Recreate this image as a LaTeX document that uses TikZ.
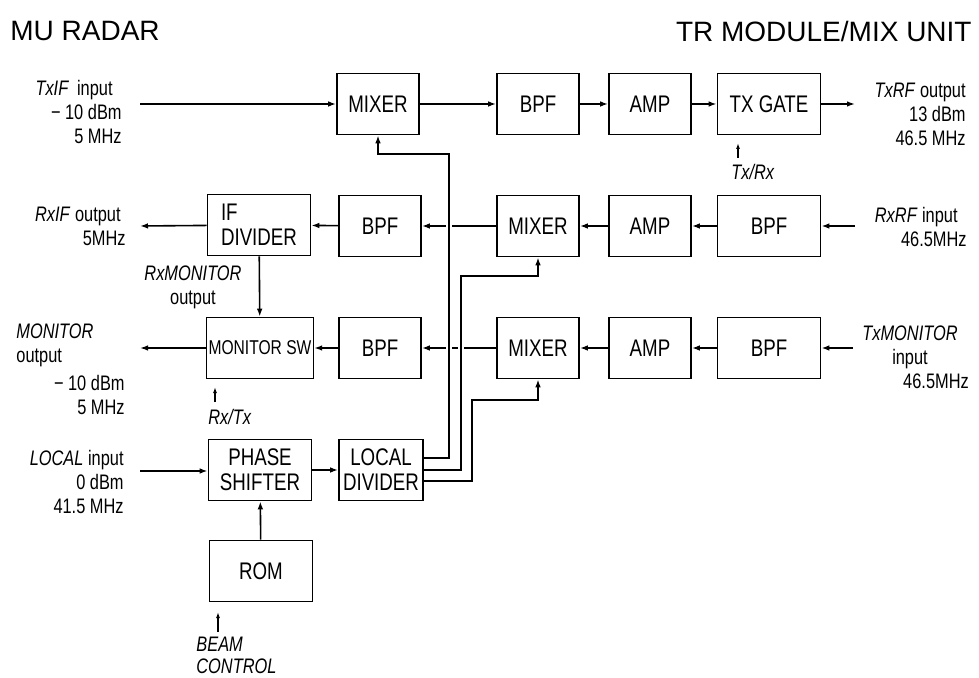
\documentclass[tikz,border=0pt]{standalone}
\usepackage{fontspec}
\setmainfont{Liberation Sans}[FakeStretch=0.78]
\newfontfamily\headfont{Liberation Sans}
\usetikzlibrary{arrows.meta}

\tikzset{
  block/.style={draw, line width=0.8pt, minimum width=41pt, minimum height=30.5pt,
    inner sep=1pt, align=center, font=\fontsize{12}{12.5}\selectfont},
  wideblock/.style={block, minimum width=51.5pt},
  sig/.style={line width=0.8pt, -{Latex[length=4pt,width=2.8pt]}},
  ctrl/.style={line width=0.6pt, -{Latex[length=3pt,width=2pt]}},
  bus/.style={sig, preaction={draw=white, line width=3pt, -, shorten <=2pt, shorten >=3pt}},
  lbl/.style={inner sep=0pt, font=\fontsize{10.5}{12}\selectfont},
  head/.style={inner sep=0pt, font=\headfont\fontsize{14}{16}\selectfont},
}

\begin{document}
\begin{tikzpicture}[x=0.5pt, y=-0.5pt]
    \useasboundingbox (0,0) rectangle (979,678);
    % titles
    \node[head, anchor=west] (mu) at (10,31) {MU RADAR};
    \node[head, anchor=east] (unit) at (972,31) {TR MODULE/MIX UNIT};
    % transmit chain
    \node[block] (mix1) at (378,104) {MIXER};
    \node[block] (bpf1) at (538,104) {BPF};
    \node[block] (amp1) at (650,104) {AMP};
    \node[wideblock] (gate) at (769,104) {TX GATE};
    % receive chain
    \node[wideblock, align=left] (ifdiv) at (259,225) {IF\\DIVIDER};
    \node[block] (bpf2l) at (380,226) {BPF};
    \node[block] (mix2) at (538,226) {MIXER};
    \node[block] (amp2) at (650,226) {AMP};
    \node[wideblock] (bpf2r) at (769,226) {BPF};
    % monitor chain
    \node[wideblock] (monsw) at (260,348) {\fontsize{10}{12}\selectfont MONITOR SW};
    \node[block] (bpf3l) at (380,348) {BPF};
    \node[block] (mix3) at (538,348) {MIXER};
    \node[block] (amp3) at (650,348) {AMP};
    \node[wideblock] (bpf3r) at (769,348) {BPF};
    % local chain
    \node[wideblock] (phase) at (260,470) {PHASE\\SHIFTER};
    \node[block, minimum width=42pt] (locdiv) at (381,470) {LOCAL\\DIVIDER};
    \node[wideblock] (rom) at (261,571) {ROM};
    % port labels
    \node[lbl, anchor=east, align=right] (txif) at (122,112) {\textit{TxIF}\, input\hspace*{4.5pt}\\− 10 dBm\\5 MHz};
    \node[lbl, anchor=east, align=right] (rxif) at (126,226) {\textit{RxIF} output\hspace*{2.5pt}\\5MHz};
    \node[lbl, align=center] (rxmon) at (193,287) {\textit{RxMONITOR}\\output};
    \node[lbl, anchor=west, align=left] (monout) at (16,345) {\textit{MONITOR}\\output};
    \node[lbl, anchor=east, align=right] (monlvl) at (125,395) {− 10 dBm\\5 MHz};
    \node[lbl, anchor=east, align=right] (local) at (124,482) {\textit{LOCAL} input\\0 dBm\\41.5 MHz};
    \node[lbl, anchor=east, align=right] (txrf) at (966,114) {\textit{TxRF} output\\13 dBm\\46.5 MHz};
    \node[lbl, anchor=east, align=right] (rxrf) at (967,227) {\textit{RxRF} input\hspace*{4.5pt}\\46.5MHz};
    \node[lbl, align=center] (txmon) at (910,357) {\textit{TxMONITOR}\\input\\\hspace*{26pt}46.5MHz};
    \node[lbl] (txrx) at (753,172) {\textit{Tx/Rx}};
    \node[lbl] (rxtx) at (230,417) {\textit{Rx/Tx}};
    \node[lbl, anchor=west, align=left, font=\fontsize{10.5}{11}\selectfont] (beam) at (196,655) {\textit{BEAM}\\\textit{CONTROL}};
    % free ends
    \coordinate (txif-in) at (140,104);
    \coordinate (txrf-out) at (855,104);
    \coordinate (rxrf-in) at (855,226);
    \coordinate (rxif-out) at (140,226);
    \coordinate (txmon-in) at (853,348);
    \coordinate (mon-out) at (140,348);
    \coordinate (local-in) at (140,471);
    \coordinate (gate-ctl) at (738,143);
    \coordinate (gate-src) at (738,158);
    \coordinate (sw-ctl) at (215,387);
    \coordinate (sw-src) at (215,402);
    \coordinate (rom-ctl) at (218,612);
    \coordinate (rom-src) at (218,632);
    % signal paths
    \draw[sig] (txif-in) -- (mix1.west |- txif-in);
    \draw[sig] (mix1) -- (bpf1);
    \draw[sig] (bpf1) -- (amp1);
    \draw[sig] (amp1) -- (gate);
    \draw[sig] (gate) -- (txrf-out);
    \draw[sig] (rxrf-in) -- (bpf2r);
    \draw[sig] (bpf2r) -- (amp2);
    \draw[sig] (amp2) -- (mix2);
    \draw[sig] (mix2) -- (bpf2l);
    \draw[sig] (bpf2l) -- (ifdiv);
    \draw[sig] (ifdiv) -- (rxif-out);
    \draw[sig] (ifdiv) -- (monsw);
    \draw[sig] (txmon-in) -- (bpf3r);
    \draw[sig] (bpf3r) -- (amp3);
    \draw[sig] (amp3) -- (mix3);
    \draw[sig] (mix3) -- (bpf3l);
    \draw[sig] (bpf3l) -- (monsw);
    \draw[sig] (monsw) -- (mon-out);
    \draw[sig] (local-in) -- (phase.west |- local-in);
    \draw[sig] (phase) -- (locdiv);
    \draw[sig] (rom) -- (phase);
    % local distribution
    \draw[bus] ([yshift=6pt]locdiv.east) -| (449,154) -| (mix1.south);
    \draw[bus] (locdiv.east) -| (461,276) -| (mix2.south);
    \draw[bus] ([yshift=-5.5pt]locdiv.east) -| (472,400) -| (mix3.south);
    % control inputs
    \draw[ctrl] (gate-src) -- (gate-ctl);
    \draw[ctrl] (sw-src) -- (sw-ctl);
    \draw[ctrl] (rom-src) -- (rom-ctl);
\end{tikzpicture}
\end{document}
